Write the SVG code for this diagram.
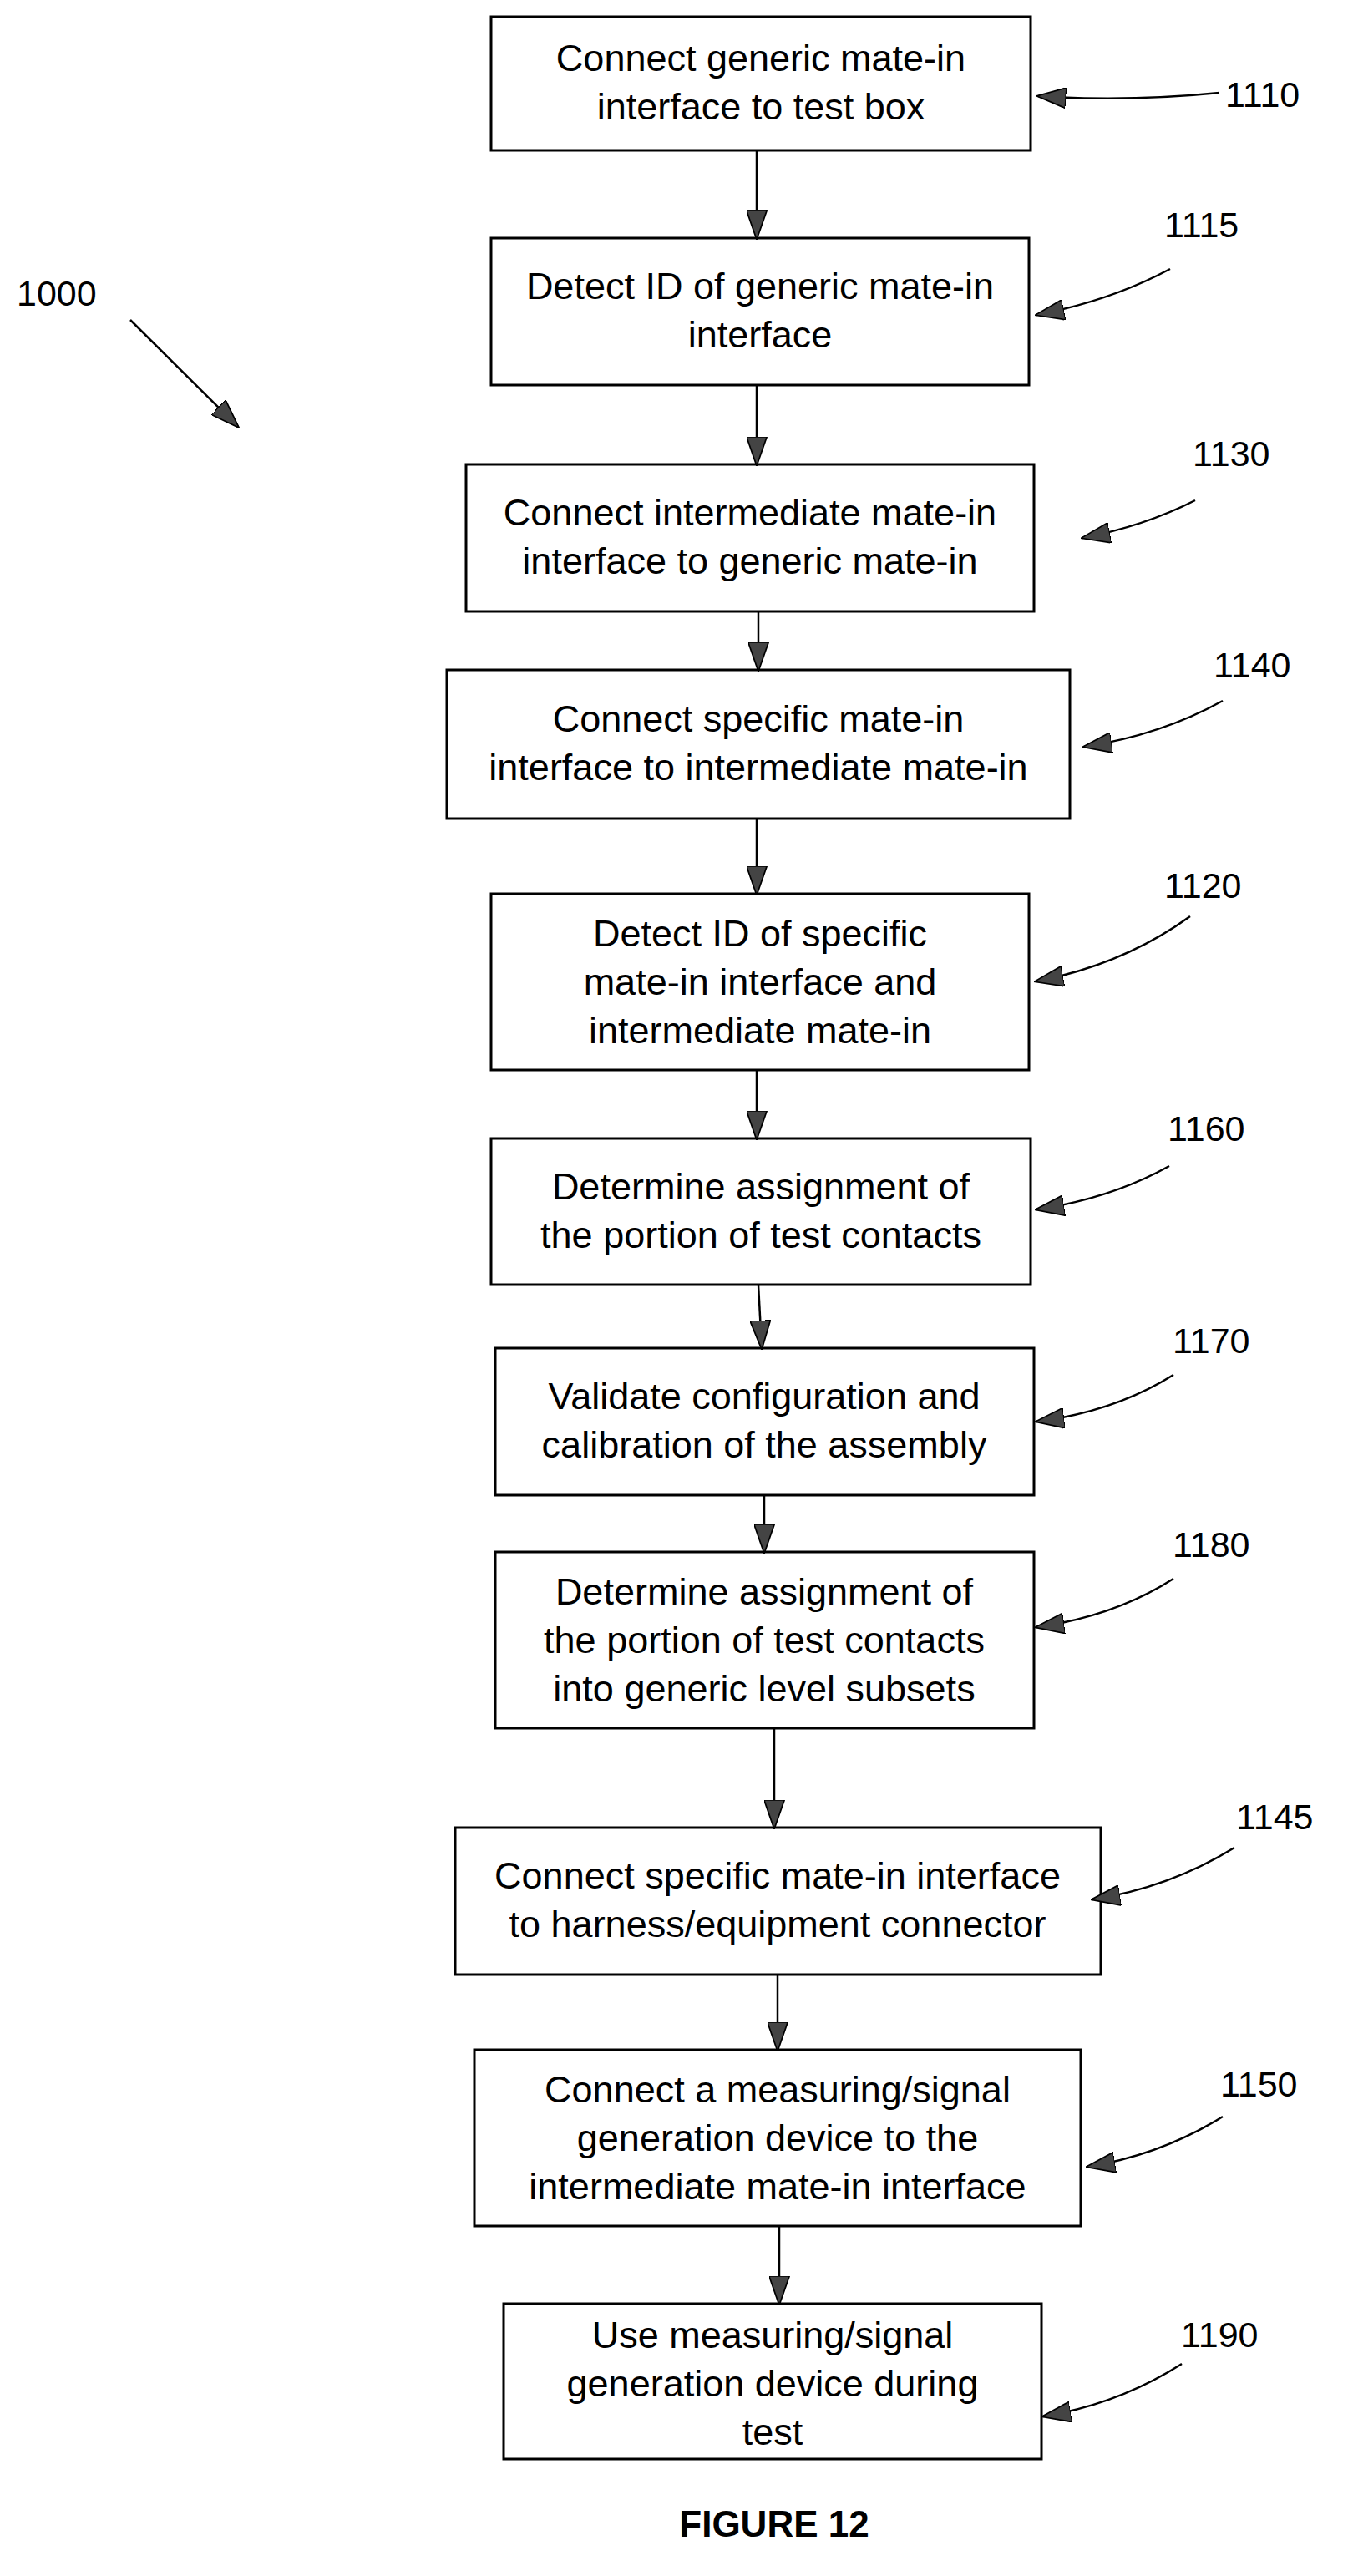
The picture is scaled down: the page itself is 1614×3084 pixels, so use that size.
<svg xmlns="http://www.w3.org/2000/svg" width="1614" height="3084" viewBox="0 0 1614 3084">
<style>
rect{fill:#fff;stroke:#000;stroke-width:3}
text{font-family:"Liberation Sans",Arial,sans-serif;font-size:45px;fill:#000;text-anchor:middle}
.lbl{font-size:43px;text-anchor:start}
.fig{font-weight:bold;font-size:44px}
#connectors path,#connectors line{stroke:#000;stroke-width:2.5;fill:none;marker-end:url(#ah)}
</style>
<defs>
<marker id="ah" viewBox="0 0 20 14" refX="19" refY="7" markerWidth="14" markerHeight="10" orient="auto" markerUnits="strokeWidth">
<path d="M0,0 L20,7 L0,14 Z" fill="#444" stroke="#000" stroke-width="1"/>
</marker>
</defs>
<rect width="1614" height="3084" style="fill:#fff;stroke:none"/>
<g id="n1110"><rect x="588" y="20" width="646" height="160"/><text x="911" y="85">Connect generic mate-in</text><text x="911" y="143">interface to test box</text></g>
<g id="n1115"><rect x="588" y="285" width="644" height="176"/><text x="910" y="358">Detect ID of generic mate-in</text><text x="910" y="416">interface</text></g>
<g id="n1130"><rect x="558" y="556" width="680" height="176"/><text x="898" y="629">Connect intermediate mate-in</text><text x="898" y="687">interface to generic mate-in</text></g>
<g id="n1140"><rect x="535" y="802" width="746" height="178"/><text x="908" y="876">Connect specific mate-in</text><text x="908" y="934">interface to intermediate mate-in</text></g>
<g id="n1120"><rect x="588" y="1070" width="644" height="211"/><text x="910" y="1133">Detect ID of specific</text><text x="910" y="1191">mate-in interface and</text><text x="910" y="1249">intermediate mate-in</text></g>
<g id="n1160"><rect x="588" y="1363" width="646" height="175"/><text x="911" y="1436">Determine assignment of</text><text x="911" y="1494">the portion of test contacts</text></g>
<g id="n1170"><rect x="593" y="1614" width="645" height="176"/><text x="915" y="1687">Validate configuration and</text><text x="915" y="1745">calibration of the assembly</text></g>
<g id="n1180"><rect x="593" y="1858" width="645" height="211"/><text x="915" y="1921">Determine assignment of</text><text x="915" y="1979">the portion of test contacts</text><text x="915" y="2037">into generic level subsets</text></g>
<g id="n1145"><rect x="545" y="2188" width="773" height="176"/><text x="931" y="2261">Connect specific mate-in interface</text><text x="931" y="2319">to harness/equipment connector</text></g>
<g id="n1150"><rect x="568" y="2454" width="726" height="211"/><text x="931" y="2517">Connect a measuring/signal</text><text x="931" y="2575">generation device to the</text><text x="931" y="2633">intermediate mate-in interface</text></g>
<g id="n1190"><rect x="603" y="2758" width="644" height="186"/><text x="925" y="2811">Use measuring/signal</text><text x="925" y="2869">generation device during</text><text x="925" y="2927">test</text></g>
<g id="labels">
<text class="lbl" x="1467" y="128">1110</text>
<text class="lbl" x="1394" y="284">1115</text>
<text class="lbl" x="1428" y="558">1130</text>
<text class="lbl" x="1453" y="811">1140</text>
<text class="lbl" x="1394" y="1075">1120</text>
<text class="lbl" x="1398" y="1366">1160</text>
<text class="lbl" x="1404" y="1620">1170</text>
<text class="lbl" x="1404" y="1864">1180</text>
<text class="lbl" x="1480" y="2190">1145</text>
<text class="lbl" x="1461" y="2510">1150</text>
<text class="lbl" x="1414" y="2810">1190</text>
<text class="lbl" x="20" y="366">1000</text>
<text class="fig" x="927" y="3037">FIGURE 12</text>
</g>
<g id="connectors">
<line x1="906" y1="180" x2="906" y2="285"/>
<line x1="906" y1="461" x2="906" y2="556"/>
<line x1="908" y1="732" x2="908" y2="802"/>
<line x1="906" y1="980" x2="906" y2="1070"/>
<line x1="906" y1="1281" x2="906" y2="1363"/>
<line x1="908" y1="1538" x2="912" y2="1614"/>
<line x1="915" y1="1790" x2="915" y2="1858"/>
<line x1="927" y1="2069" x2="927" y2="2188"/>
<line x1="931" y1="2364" x2="931" y2="2454"/>
<line x1="933" y1="2665" x2="933" y2="2758"/>
<path d="M1460,111 Q1350,122 1243,115"/>
<path d="M1401,322 Q1330,360 1241,377"/>
<path d="M1431,599 Q1370,630 1296,644"/>
<path d="M1464,839 Q1390,880 1298,894"/>
<path d="M1425,1097 Q1345,1155 1240,1175"/>
<path d="M1400,1396 Q1330,1435 1241,1448"/>
<path d="M1405,1646 Q1335,1690 1241,1702"/>
<path d="M1405,1890 Q1335,1935 1241,1948"/>
<path d="M1478,2212 Q1400,2260 1308,2274"/>
<path d="M1464,2534 Q1390,2580 1302,2594"/>
<path d="M1415,2830 Q1340,2878 1249,2893"/>
<line x1="156" y1="383" x2="285" y2="511"/>
</g>
</svg>
